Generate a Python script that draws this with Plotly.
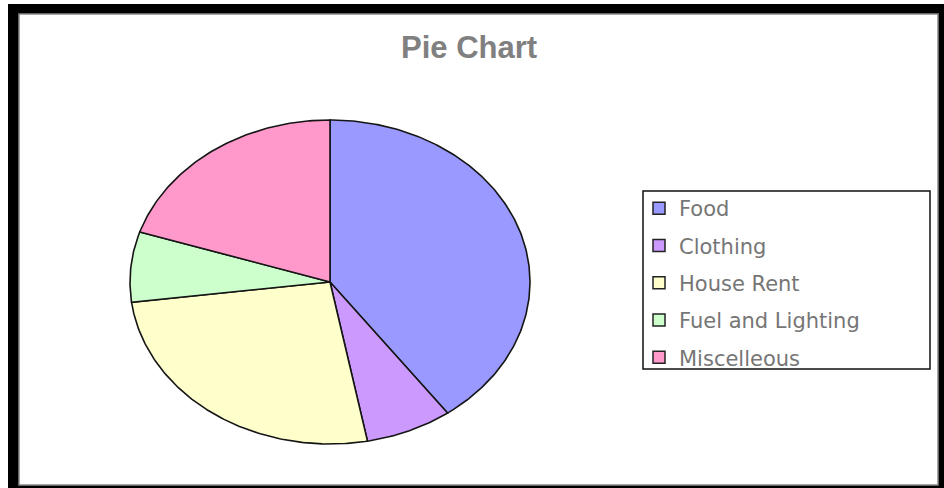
import numpy as np
import plotly.graph_objects as go

categories = ["Food", "Clothing", "House Rent", "Fuel and Lighting", "Miscelleous"]
values = [40, 7, 26, 7, 20]
colors = ["#9999FF", "#CC99FF", "#FFFFCC", "#CCFFCC", "#FF99CC"]
title_text = "Pie Chart"

W, H = 944, 488
cx, cy, rx, ry = 330, 282, 200, 162

total = float(sum(values))
fig = go.Figure()
start = 0.0
for name, v, c in zip(categories, values, colors):
    end = start + v / total
    n = max(int(v * 5), 12)
    t = np.linspace(start, end, n) * 2 * np.pi
    xs = np.concatenate([[cx], cx + rx * np.sin(t), [cx]])
    ys = np.concatenate([[cy], cy - ry * np.cos(t), [cy]])
    fig.add_trace(go.Scatter(
        x=xs, y=ys, fill="toself", fillcolor=c, mode="lines",
        line=dict(color="#151515", width=1.6), showlegend=False,
        hoverinfo="text", text=f"{name}: {v}%", hoveron="fills"))
    start = end

for name, c in zip(categories, colors):
    fig.add_trace(go.Scatter(
        x=[None], y=[None], mode="markers", name=name, legendgroup=name,
        marker=dict(symbol="square", size=12, color=c,
                    line=dict(color="#222222", width=1.5))))

shapes = [
    dict(type="rect", xref="x", yref="y", x0=8, x1=944, y0=4, y1=488,
         fillcolor="#000000", line=dict(width=0), layer="below"),
    dict(type="rect", xref="x", yref="y", x0=19, x1=938, y0=14, y1=485,
         fillcolor="#FFFFFF", line=dict(color="#8a8a8a", width=1.5), layer="below"),
    dict(type="rect", xref="x", yref="y", x0=643, x1=930, y0=191, y1=369,
         fillcolor="rgba(0,0,0,0)", line=dict(color="#111111", width=1.5), layer="below"),
]

fig.update_layout(
    width=W, height=H, margin=dict(l=0, r=0, t=0, b=0),
    paper_bgcolor="#FFFFFF", plot_bgcolor="rgba(0,0,0,0)",
    xaxis=dict(range=[0, W], domain=[0, 1], visible=False, fixedrange=True),
    yaxis=dict(range=[H, 0], domain=[0, 1], visible=False, fixedrange=True),
    shapes=shapes,
    showlegend=True,
    legend=dict(
        x=639 / W, xanchor="left", y=1 - 188 / H, yanchor="top",
        font=dict(family="DejaVu Sans", size=21, color="#767676"),
        bgcolor="rgba(0,0,0,0)", borderwidth=0, itemwidth=30,
        traceorder="grouped", tracegroupgap=7,
    ),
    annotations=[dict(
        x=469, y=47, xref="x", yref="y", text=f"<b>{title_text}</b>",
        showarrow=False, font=dict(family="Liberation Sans", size=31, color="#808080"),
    )],
)

fig.write_html("out.html")
